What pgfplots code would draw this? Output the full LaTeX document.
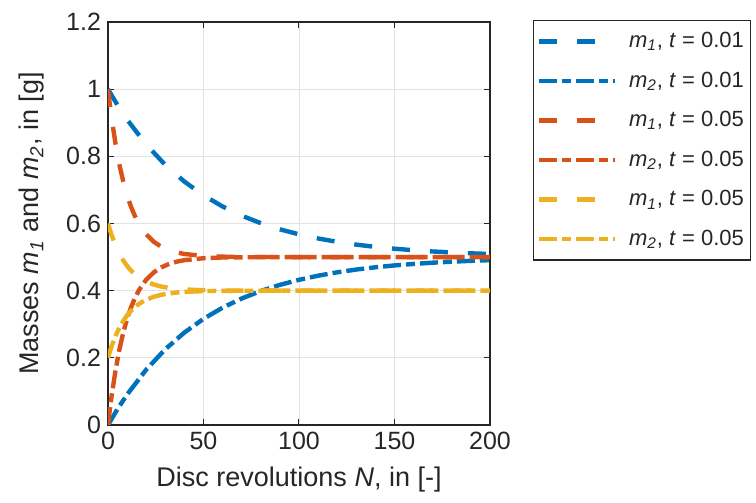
\documentclass[border=0pt]{standalone}
\usepackage{fontspec}
\setmainfont{Liberation Sans}
\usepackage{pgfplots}
\pgfplotsset{compat=1.18}
\definecolor{mBlue}{rgb}{0,0.447,0.741}
\definecolor{mRed}{rgb}{0.85,0.325,0.098}
\definecolor{mYel}{rgb}{0.929,0.694,0.125}
\definecolor{mAx}{rgb}{0.15,0.15,0.15}
\tikzset{
  mdash/.style={line width=2.2pt, dash pattern=on 9pt off 10pt},
  mdashdot/.style={line width=2.2pt, dash pattern=on 9pt off 2.5pt on 4.5pt off 2.5pt},
}
\begin{document}
\begin{tikzpicture}
\begin{axis}[
    scale only axis,
    width=191pt, height=201.5pt,
    xmin=0, xmax=200, ymin=0, ymax=1.2,
    xtick={0,50,100,150,200},
    ytick={0,0.2,0.4,0.6,0.8,1,1.2},
    /pgf/number format/assume math mode=true,
    ticklabel style={font=\fontsize{12.5}{14}\selectfont, text=mAx},
    label style={font=\fontsize{13.5}{15}\selectfont, text=mAx},
    xlabel={Disc revolutions \textit{N}, in [-]},
    ylabel={Masses \textit{m}\textsubscript{\textit{1}} and \textit{m}\textsubscript{\textit{2}}, in [g]},
    xlabel style={at={(axis description cs:0.5,-0.1538)}, anchor=base},
    ylabel style={at={(axis description cs:-0.199,0.5)}, anchor=center, rotate=0},
    axis line style={mAx, line width=0.6pt},
    tick style={mAx, line width=0.5pt},
    tick align=inside,
    major tick length=3pt,
    grid=major,
    major grid style={gray!22, line width=0.4pt},
    legend image code/.code={\draw[#1] (0pt,0pt) -- (38pt,0pt);},
    legend cell align=left,
    legend style={at={(1.1126,1.005)}, anchor=north west, draw=mAx, line width=0.6pt,
        font=\fontsize{11}{13}\selectfont, text=mAx, row sep=6.6pt,
        inner xsep=1.5pt, inner ysep=3.8pt,
        /tikz/every odd column/.append style={column sep=4pt}},
]
\addplot[mBlue, mdash] coordinates {
  (0,1.0)(5,0.9524)(10,0.9094)(20,0.8352)(30,0.7744)(40,0.7247)(50,0.6839)
  (60,0.6506)(70,0.6233)(80,0.6010)(90,0.5827)(100,0.5677)(110,0.5554)
  (120,0.5454)(130,0.5371)(140,0.5304)(150,0.5249)(160,0.5204)(170,0.5167)
  (180,0.5137)(190,0.5112)(200,0.5092)};
\addlegendentry{\textit{m}\textsubscript{\textit{1}}, \textit{t} = 0.01}
\addplot[mBlue, mdashdot] coordinates {
  (0,0.0)(5,0.0476)(10,0.0906)(20,0.1648)(30,0.2256)(40,0.2753)(50,0.3161)
  (60,0.3494)(70,0.3767)(80,0.3990)(90,0.4173)(100,0.4323)(110,0.4446)
  (120,0.4546)(130,0.4629)(140,0.4696)(150,0.4751)(160,0.4796)(170,0.4833)
  (180,0.4863)(190,0.4888)(200,0.4908)};
\addlegendentry{\textit{m}\textsubscript{\textit{2}}, \textit{t} = 0.01}
\addplot[mRed, mdash] coordinates {
  (0,1.0)(1,0.9524)(2,0.9094)(4,0.8352)(6,0.7744)(8,0.7247)(10,0.6839)
  (12,0.6506)(14,0.6233)(16,0.6010)(18,0.5827)(20,0.5677)(24,0.5454)
  (28,0.5304)(32,0.5204)(36,0.5137)(40,0.5092)(50,0.5034)(60,0.5012)
  (80,0.5002)(100,0.5)(200,0.5)};
\addlegendentry{\textit{m}\textsubscript{\textit{1}}, \textit{t} = 0.05}
\addplot[mRed, mdashdot] coordinates {
  (0,0.0)(1,0.0476)(2,0.0906)(4,0.1648)(6,0.2256)(8,0.2753)(10,0.3161)
  (12,0.3494)(14,0.3767)(16,0.3990)(18,0.4173)(20,0.4323)(24,0.4546)
  (28,0.4696)(32,0.4796)(36,0.4863)(40,0.4908)(50,0.4966)(60,0.4988)
  (80,0.4998)(100,0.5)(200,0.5)};
\addlegendentry{\textit{m}\textsubscript{\textit{2}}, \textit{t} = 0.05}
\addplot[mYel, mdash] coordinates {
  (0,0.6)(1,0.5810)(2,0.5637)(4,0.5341)(6,0.5098)(8,0.4899)(10,0.4736)
  (12,0.4602)(14,0.4493)(16,0.4404)(18,0.4331)(20,0.4271)(24,0.4181)
  (28,0.4122)(32,0.4082)(36,0.4055)(40,0.4037)(50,0.4013)(60,0.4005)
  (80,0.4001)(100,0.4)(200,0.4)};
\addlegendentry{\textit{m}\textsubscript{\textit{1}}, \textit{t} = 0.05}
\addplot[mYel, mdashdot] coordinates {
  (0,0.2)(1,0.2190)(2,0.2363)(4,0.2659)(6,0.2902)(8,0.3101)(10,0.3264)
  (12,0.3398)(14,0.3507)(16,0.3596)(18,0.3669)(20,0.3729)(24,0.3819)
  (28,0.3878)(32,0.3918)(36,0.3945)(40,0.3963)(50,0.3987)(60,0.3995)
  (80,0.3999)(100,0.4)(200,0.4)};
\addlegendentry{\textit{m}\textsubscript{\textit{2}}, \textit{t} = 0.05}
\end{axis}
\pgfresetboundingbox
\useasboundingbox (-54pt,-39pt) rectangle (324pt,212.5pt);
\end{tikzpicture}
\end{document}
